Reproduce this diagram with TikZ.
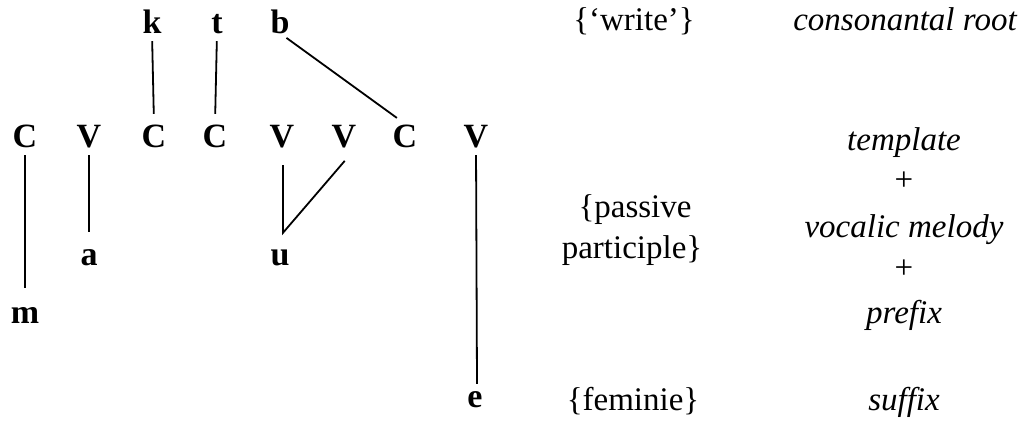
\documentclass[tikz,border=0pt]{standalone}
\usepackage{fontspec}
\setmainfont{Liberation Serif}
\tikzset{
  seg/.style={font=\fontsize{34}{40}\selectfont\bfseries,inner sep=0pt,text height=23pt,text depth=0pt,anchor=base},
  gloss/.style={font=\fontsize{33}{40}\selectfont,inner sep=0pt,anchor=base},
  morph/.style={gloss,font=\fontsize{33}{40}\selectfont\itshape},
  assoc/.style={line width=1.8pt,shorten <=8pt,shorten >=10pt}
}
\begin{document}
\begin{tikzpicture}[x=1pt,y=-1pt]
\useasboundingbox (0,0) rectangle (1023,423);
% root tier
\node[seg] (k) at (152,33) {k};
\node[seg] (t) at (217,33) {t};
\node[seg] (b) at (280,33) {b};
% CV template
\node[seg] (c1) at (25,147) {C};
\node[seg] (v1) at (89,147) {V};
\node[seg] (c2) at (154,147) {C};
\node[seg] (c3) at (215,147) {C};
\node[seg] (v2) at (282,147) {V};
\node[seg] (v3) at (344,147) {V};
\node[seg] (c4) at (405,147) {C};
\node[seg] (v4) at (476,147) {V};
% melody, prefix, suffix
\node[seg] (a) at (89,265) {a};
\node[seg] (u) at (280,265) {u};
\node[seg] (m) at (25,323) {m};
\node[seg] (e) at (475,407) {e};
\coordinate (uj) at ([xshift=3pt,yshift=9pt]u.north);
% association lines
\draw[assoc] (k.south) -- (c2.north);
\draw[assoc] (t.south) -- (c3.north);
\draw[assoc] (b.south) -- (c4.north);
\draw[assoc,shorten >=12pt,xshift=3pt] (c1.south) -- (m.north);
\draw[assoc] (v1.south) -- (a.north);
\draw[assoc,shorten <=18pt,shorten >=18pt,line join=miter] (uj |- v2.south) -- (uj) -- (v3.south east);
\draw[assoc,shorten >=0pt] (v4.south) -- ([xshift=2pt]e.north);
% glosses
\node[gloss] (write) at (634,30) {\{‘write’\}};
\node[gloss] (pass) at (635,217) {\{passive};
\node[gloss] (part) at (632,258) {participle\}};
\node[gloss] (fem) at (633,410) {\{feminie\}};
% morphemes
\node[morph] (root) at (905,30) {consonantal root};
\node[morph] (templ) at (904,150) {template};
\node[gloss] (plus1) at (904,190) {+};
\node[morph] (melody) at (904,237) {vocalic melody};
\node[gloss] (plus2) at (904,278) {+};
\node[morph] (prefix) at (904,323) {prefix};
\node[morph] (suffix) at (904,410) {suffix};
\end{tikzpicture}
\end{document}
